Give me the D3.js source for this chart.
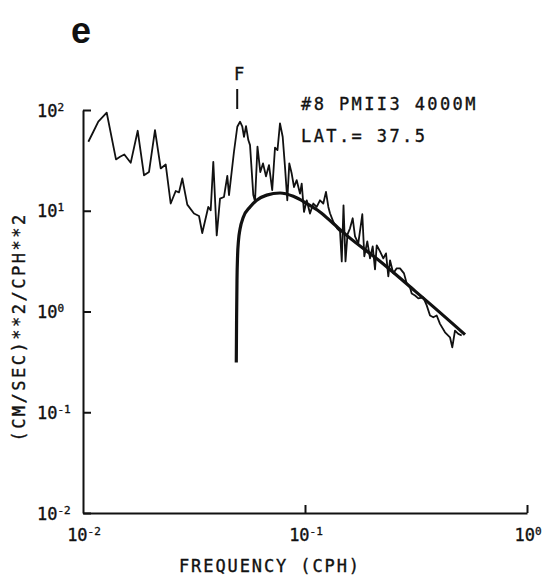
<!DOCTYPE html>
<html><head><meta charset="utf-8">
<script src="https://cdn.jsdelivr.net/npm/d3@7"></script>
<style>html,body{margin:0;padding:0;background:#fff}svg{display:block}</style>
</head><body>
<svg id="c" width="544" height="579"></svg>
<script>
// Observed spectrum (thin line): frequency in CPH, PSD in (cm/s)^2/cph
const spectrumFreq = [0.01057,0.01113,0.01172,0.01279,0.01408,0.01468,0.01535,0.0164,0.01764,0.01883,
  0.01983,0.0211,0.02239,0.02358,0.02483,0.02616,0.02706,0.02801,0.0295,0.03162,
  0.03331,0.03445,0.03667,0.0376,0.03863,0.04003,0.04142,0.04316,0.04467,0.04547,
  0.04787,0.04955,0.05097,0.0522,0.05312,0.05424,0.05555,0.05654,0.0585,0.05954,
  0.06109,0.0629,0.06469,0.06673,0.06884,0.07117,0.07326,0.07517,0.07716,0.07934,
  0.08126,0.08322,0.08497,0.08711,0.08923,0.09175,0.09495,0.09663,0.09897,0.1018,
  0.1053,0.109,0.1129,0.1168,0.1209,0.1243,0.1274,0.1296,0.1344,0.1394,
  0.1438,0.1464,0.1491,0.1522,0.1554,0.1595,0.164,0.168,0.1738,0.1812,
  0.185,0.1908,0.1963,0.2018,0.2067,0.2104,0.2177,0.2253,0.2317,0.2373,
  0.2415,0.2499,0.2589,0.2679,0.2792,0.2872,0.2972,0.3024,0.313,0.3239,
  0.3412,0.3534,0.3657,0.3784,0.392,0.4056,0.4272,0.4499,0.4607,0.4738,
  0.4903,0.508];
const spectrumPsd = [48.4,60.8,76.5,94.0,32.3,34.3,36.2,29.9,62.2,22.5,
  24.3,63.2,26.3,28.8,11.8,15.7,15.2,20.9,11.5,9.38,
  8.87,6.01,10.9,10.1,30.6,5.70,13.2,13.7,22.2,14.3,
  38.5,68.2,76.5,68.2,54.2,69.3,50.3,44.8,14.3,12.4,
  43.3,24.2,29.5,22.0,28.4,16.0,42.4,40.0,73.7,54.2,
  27.3,12.7,29.5,23.4,17.2,20.1,14.8,18.6,9.73,12.7,
  9.38,11.8,10.9,12.7,11.8,15.4,10.9,9.44,7.68,6.69,
  6.25,3.14,11.3,3.14,5.84,6.69,8.42,5.57,4.75,9.23,
  3.53,4.97,3.37,4.43,2.62,4.54,3.95,3.37,3.78,2.23,
  3.22,2.39,2.68,2.68,2.39,1.90,1.73,1.51,1.44,1.35,
  1.38,1.15,0.912,0.877,0.912,0.754,0.622,0.555,0.441,0.647,
  0.600,0.577];

// Model spectrum (thick line)
const modelFreq = [0.04903,0.04918,0.04939,0.0497,0.05017,0.05095,0.05273,0.05653,0.06059,0.06722,
  0.07717,0.08858,0.1018,0.1168,0.1341,0.1541,0.2177,0.3066,0.3657,0.5256];
const modelPsd = [0.311,0.814,2.03,3.61,5.09,6.55,8.62,10.9,12.7,14.3,
  15.0,13.9,11.8,9.73,7.46,5.70,3.15,1.66,1.19,0.590];

// Axis ticks (exponents of 10)
const xTickExps = [-2, -1, 0];
const yTickExps = [2, 1, 0, -1, -2];
const inertialFreq = 0.0495; // "F" marker

const panelLabel = "e";
const xTitle = "FREQUENCY (CPH)";
const yTitle = "(CM/SEC)**2/CPH**2";
const noteLines = ["#8 PMII3 4000M", "LAT.= 37.5"];

const svg = d3.select("#c");
const ink = "#111";
const mono = "'DejaVu Sans Mono', 'Liberation Mono', monospace";

const x = d3.scaleLog().domain([0.01, 1]).range([83, 527]);
const y = d3.scaleLog().domain([0.01, 100]).range([513, 110]);

function styleText(t) {
  return t.attr("font-family", mono).attr("fill", ink).attr("stroke", ink).attr("stroke-width", 0.35);
}

// axes
const gy = svg.append("g").attr("transform", `translate(${x.range()[0]},0)`)
  .call(d3.axisLeft(y).tickValues(yTickExps.map(e => Math.pow(10, e))).tickSize(-8).tickSizeOuter(0).tickFormat(""));
const gx = svg.append("g").attr("transform", `translate(0,${y.range()[0]})`)
  .call(d3.axisBottom(x).tickValues(xTickExps.filter(e => e > -2).map(e => Math.pow(10, e))).tickSize(-8).tickSizeOuter(0).tickFormat(""));
[gx, gy].forEach(g => {
  g.selectAll("path,line").attr("stroke", ink).attr("stroke-width", 2);
});

// y tick labels
yTickExps.forEach(e => {
  const t = styleText(svg.append("text").attr("x", 37).attr("y", y(Math.pow(10, e)) + 6.5).attr("font-size", 17));
  t.append("tspan").text("10");
  t.append("tspan").attr("font-size", 11).attr("dy", -6).text(String(e));
});
// x tick labels
xTickExps.forEach(e => {
  const t = styleText(svg.append("text").attr("x", x(Math.pow(10, e)) + 1).attr("y", 541)
    .attr("text-anchor", "middle").attr("font-size", 17));
  t.append("tspan").text("10");
  t.append("tspan").attr("font-size", 11).attr("dy", -6).text(String(e));
});

// titles
styleText(svg.append("text").attr("x", 270).attr("y", 572).attr("text-anchor", "middle")
  .attr("font-size", 17).attr("letter-spacing", 1.9)).text(xTitle);
styleText(svg.append("text").attr("transform", "translate(25,327) rotate(-90)").attr("text-anchor", "middle")
  .attr("font-size", 17).attr("letter-spacing", 2.5)).text(yTitle);

// panel label
svg.append("text").attr("x", 71).attr("y", 43).attr("font-family", "'Liberation Sans', Arial, sans-serif")
  .attr("font-weight", "bold").attr("font-size", 36).attr("fill", ink).text(panelLabel);

// notes
noteLines.forEach((s, i) => {
  styleText(svg.append("text").attr("x", 301).attr("y", 110 + i * 32)
    .attr("font-size", 17).attr("letter-spacing", 2.4)).text(s);
});

// F marker
const fx = x(inertialFreq);
styleText(svg.append("text").attr("x", fx + 2).attr("y", 80).attr("text-anchor", "middle")
  .attr("font-size", 17)).text("F");
svg.append("line").attr("x1", fx).attr("x2", fx).attr("y1", 89).attr("y2", 109)
  .attr("stroke", ink).attr("stroke-width", 2);

// spectrum lines
const spec = spectrumFreq.map((f, i) => ({f, p: spectrumPsd[i]}));
const model = modelFreq.map((f, i) => ({f, p: modelPsd[i]}));
const lineLin = d3.line().x(d => x(d.f)).y(d => y(d.p));
const lineSmooth = d3.line().x(d => x(d.f)).y(d => y(d.p)).curve(d3.curveMonotoneX);

svg.append("path").datum(spec).attr("d", lineLin).attr("fill", "none")
  .attr("stroke", ink).attr("stroke-width", 1.8).attr("stroke-linejoin", "round");
svg.append("path").datum(model).attr("d", lineSmooth).attr("fill", "none")
  .attr("stroke", ink).attr("stroke-width", 3.2).attr("stroke-linejoin", "round");
</script>
</body></html>
